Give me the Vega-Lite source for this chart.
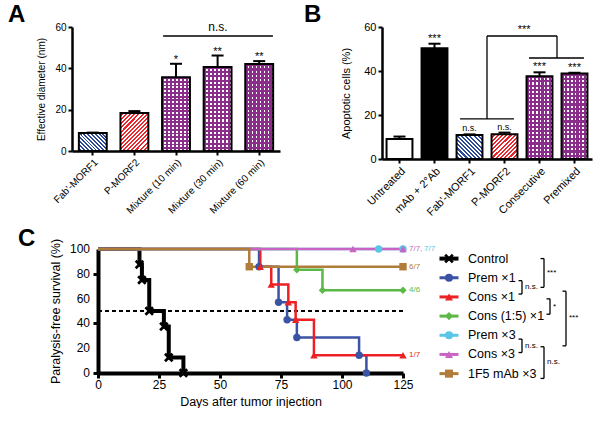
{
"$schema": "https://vega.github.io/schema/vega-lite/v6.json",
"padding": {"left": 8, "top": 3, "right": 0, "bottom": 0},
"background": "white",
"datasets": {
"sizeA": [
{"group": "Fab'-MORF1", "mean": 8.7, "upper": 8.9, "sig": "", "pattern": "blue"},
{"group": "P-MORF2", "mean": 18.4, "upper": 19.3, "sig": "", "pattern": "red"},
{"group": "Mixture (10 min)", "mean": 35.7, "upper": 42.2, "sig": "*", "pattern": "purple"},
{"group": "Mixture (30 min)", "mean": 40.7, "upper": 46.2, "sig": "**", "pattern": "purple"},
{"group": "Mixture (60 min)", "mean": 42.1, "upper": 43.5, "sig": "**", "pattern": "purple"}
],
"apopB": [
{"group": "Untreated", "mean": 9.1, "upper": 10.2, "sig": "", "pattern": "white"},
{"group": "mAb + 2°Ab", "mean": 50.3, "upper": 52.4, "sig": "***", "pattern": "black"},
{"group": "Fab'-MORF1", "mean": 10.9, "upper": 11.2, "sig": "n.s.", "pattern": "blue"},
{"group": "P-MORF2", "mean": 11.2, "upper": 12.0, "sig": "n.s.", "pattern": "red"},
{"group": "Consecutive", "mean": 37.6, "upper": 39.4, "sig": "***", "pattern": "purple"},
{"group": "Premixed", "mean": 38.9, "upper": 39.2, "sig": "***", "pattern": "purple"}
],
"segA": [{"x": 2.19, "x2": 4.83, "y": 55.6, "y2": 55.6}],
"labA": [{"x": 3.51, "y": 55.6, "label": "n.s."}],
"segB": [
{"x": 2.23, "x2": 3.77, "y": 18.2, "y2": 18.2},
{"x": 3.0, "x2": 3.0, "y": 18.2, "y2": 55.9},
{"x": 3.0, "x2": 5.0, "y": 55.9, "y2": 55.9},
{"x": 5.0, "x2": 5.0, "y": 55.9, "y2": 45.9},
{"x": 4.2, "x2": 5.77, "y": 45.9, "y2": 45.9}
],
"labB": [{"x": 4.06, "y": 55.9, "label": "***"}],
"survTicks": [{"tick": 0}, {"tick": 20}, {"tick": 40}, {"tick": 60}, {"tick": 80}, {"tick": 100}],
"survival": [
{"series": "Control", "day": 0, "surv": 100, "event": "start"},
{"series": "Control", "day": 17, "surv": 87.5, "event": "death"},
{"series": "Control", "day": 18, "surv": 75, "event": "death"},
{"series": "Control", "day": 21, "surv": 50, "event": "death"},
{"series": "Control", "day": 27, "surv": 37.5, "event": "death"},
{"series": "Control", "day": 29, "surv": 12.5, "event": "death"},
{"series": "Control", "day": 35, "surv": 0, "event": "death"},
{"series": "Prem ×1", "day": 0, "surv": 100, "event": "start"},
{"series": "Prem ×1", "day": 66, "surv": 85.7, "event": "death"},
{"series": "Prem ×1", "day": 74, "surv": 57.1, "event": "death"},
{"series": "Prem ×1", "day": 77.5, "surv": 42.9, "event": "death"},
{"series": "Prem ×1", "day": 81.5, "surv": 28.6, "event": "death"},
{"series": "Prem ×1", "day": 107, "surv": 14.3, "event": "death"},
{"series": "Prem ×1", "day": 110, "surv": 0, "event": "death"},
{"series": "Cons ×1", "day": 0, "surv": 100, "event": "start"},
{"series": "Cons ×1", "day": 66.5, "surv": 85.7, "event": "death"},
{"series": "Cons ×1", "day": 71, "surv": 71.4, "event": "death"},
{"series": "Cons ×1", "day": 78, "surv": 57.1, "event": "death"},
{"series": "Cons ×1", "day": 81, "surv": 42.9, "event": "death"},
{"series": "Cons ×1", "day": 88.5, "surv": 14.3, "event": "death"},
{"series": "Cons ×1", "day": 125, "surv": 14.3, "event": "censored"},
{"series": "Cons (1:5) ×1", "day": 0, "surv": 100, "event": "start"},
{"series": "Cons (1:5) ×1", "day": 81.5, "surv": 83.3, "event": "death"},
{"series": "Cons (1:5) ×1", "day": 92, "surv": 66.7, "event": "death"},
{"series": "Cons (1:5) ×1", "day": 125, "surv": 66.7, "event": "censored"},
{"series": "Prem ×3", "day": 0, "surv": 100, "event": "start"},
{"series": "Prem ×3", "day": 115, "surv": 100, "event": "censored"},
{"series": "Prem ×3", "day": 125, "surv": 100, "event": "censored"},
{"series": "Cons ×3", "day": 0, "surv": 100, "event": "start"},
{"series": "Cons ×3", "day": 104.5, "surv": 100, "event": "censored"},
{"series": "Cons ×3", "day": 125, "surv": 100, "event": "censored"},
{"series": "1F5 mAb ×3", "day": 0, "surv": 100, "event": "start"},
{"series": "1F5 mAb ×3", "day": 62, "surv": 85.7, "event": "death"},
{"series": "1F5 mAb ×3", "day": 125, "surv": 85.7, "event": "censored"}
],
"counts": [
{"series": "Cons ×3", "day": 125, "surv": 100, "label": "7/7,"},
{"series": "Prem ×3", "day": 125, "surv": 100, "label": "7/7"},
{"series": "1F5 mAb ×3", "day": 125, "surv": 85.7, "label": "6/7"},
{"series": "Cons (1:5) ×1", "day": 125, "surv": 66.7, "label": "4/6"},
{"series": "Cons ×1", "day": 125, "surv": 14.3, "label": "1/7"}
],
"legendRows": [
{"series": "Control", "row": 0},
{"series": "Prem ×1", "row": 1},
{"series": "Cons ×1", "row": 2},
{"series": "Cons (1:5) ×1", "row": 3},
{"series": "Prem ×3", "row": 4},
{"series": "Cons ×3", "row": 5},
{"series": "1F5 mAb ×3", "row": 6}
],
"legendBrackets": [
{"from": 1.15, "to": 1.85, "mid": 1.5, "level": 8.4, "label": "n.s."},
{"from": 0, "to": 1.5, "mid": 0.75, "level": 10.6, "label": "***"},
{"from": 2.1, "to": 2.9, "mid": 2.5, "level": 11.2, "label": "*"},
{"from": 1.7, "to": 4.55, "mid": 3.12, "level": 12.8, "label": "***"},
{"from": 4.2, "to": 4.9, "mid": 4.55, "level": 8.4, "label": "n.s."},
{"from": 4.6, "to": 6.25, "mid": 5.4, "level": 10.6, "label": "n.s."}
]
},
"concat": [
{"hconcat": [
{
"title": {"text": "A", "anchor": "start", "frame": "group", "dx": -90, "fontSize": 24, "fontWeight": "bold", "offset": -6},
"width": 182, "height": 124,
"layer": [
{"data": {"name": "sizeA"}, "transform": [{"filter": "datum.pattern === 'blue'"}],
 "mark": {"type": "bar", "stroke": "black", "strokeWidth": 2, "fill": {"gradient": "linear", "x1": 0, "y1": 1, "x2": 1.1625, "y2": 0.2527, "stops": [
{"offset":0,"color":"#fff"},{"offset":0.0417,"color":"#fff"},{"offset":0.0417,"color":"#2e4b9b"},{"offset":0.0833,"color":"#2e4b9b"},
{"offset":0.0833,"color":"#fff"},{"offset":0.125,"color":"#fff"},{"offset":0.125,"color":"#2e4b9b"},{"offset":0.1667,"color":"#2e4b9b"},
{"offset":0.1667,"color":"#fff"},{"offset":0.2083,"color":"#fff"},{"offset":0.2083,"color":"#2e4b9b"},{"offset":0.25,"color":"#2e4b9b"},
{"offset":0.25,"color":"#fff"},{"offset":0.2917,"color":"#fff"},{"offset":0.2917,"color":"#2e4b9b"},{"offset":0.3333,"color":"#2e4b9b"},
{"offset":0.3333,"color":"#fff"},{"offset":0.375,"color":"#fff"},{"offset":0.375,"color":"#2e4b9b"},{"offset":0.4167,"color":"#2e4b9b"},
{"offset":0.4167,"color":"#fff"},{"offset":0.4583,"color":"#fff"},{"offset":0.4583,"color":"#2e4b9b"},{"offset":0.5,"color":"#2e4b9b"},
{"offset":0.5,"color":"#fff"},{"offset":0.5417,"color":"#fff"},{"offset":0.5417,"color":"#2e4b9b"},{"offset":0.5833,"color":"#2e4b9b"},
{"offset":0.5833,"color":"#fff"},{"offset":0.625,"color":"#fff"},{"offset":0.625,"color":"#2e4b9b"},{"offset":0.6667,"color":"#2e4b9b"},
{"offset":0.6667,"color":"#fff"},{"offset":0.7083,"color":"#fff"},{"offset":0.7083,"color":"#2e4b9b"},{"offset":0.75,"color":"#2e4b9b"},
{"offset":0.75,"color":"#fff"},{"offset":0.7917,"color":"#fff"},{"offset":0.7917,"color":"#2e4b9b"},{"offset":0.8333,"color":"#2e4b9b"},
{"offset":0.8333,"color":"#fff"},{"offset":0.875,"color":"#fff"},{"offset":0.875,"color":"#2e4b9b"},{"offset":0.9167,"color":"#2e4b9b"},
{"offset":0.9167,"color":"#fff"},{"offset":0.9583,"color":"#fff"},{"offset":0.9583,"color":"#2e4b9b"},{"offset":1,"color":"#2e4b9b"}]}},
 "encoding": {
  "x": {"field": "group", "type": "nominal", "sort": null, "scale": {"domain": ["Fab'-MORF1", "P-MORF2", "Mixture (10 min)", "Mixture (30 min)", "Mixture (60 min)"], "range": [-26, 182], "paddingInner": 0.33, "paddingOuter": 0.165}, "axis": {"title": null, "labelAngle": -45, "labelFontSize": 10, "tickSize": 4, "tickWidth": 2, "domainWidth": 2.5, "labelPadding": 2}},
  "y": {"field": "mean", "type": "quantitative", "scale": {"domain": [0, 60], "nice": false}, "axis": {"title": "Effective diameter (nm)", "values": [0, 20, 40, 60], "offset": 26, "labelFontSize": 10, "titleFontSize": 10, "tickSize": 4, "tickWidth": 2, "domainWidth": 2.5, "titlePadding": 8, "labelPadding": 2, "labelOverlap": false}}
 }},
{"data": {"name": "sizeA"}, "transform": [{"filter": "datum.pattern === 'red'"}],
 "mark": {"type": "bar", "stroke": "black", "strokeWidth": 2, "fill": {"gradient": "linear", "x1": 0, "y1": 0, "x2": 0.8294, "y2": 1.1256, "stops": [
{"offset":0,"color":"#fff"},{"offset":0.03125,"color":"#fff"},{"offset":0.03125,"color":"#e8262b"},{"offset":0.0625,"color":"#e8262b"},
{"offset":0.0625,"color":"#fff"},{"offset":0.09375,"color":"#fff"},{"offset":0.09375,"color":"#e8262b"},{"offset":0.125,"color":"#e8262b"},
{"offset":0.125,"color":"#fff"},{"offset":0.15625,"color":"#fff"},{"offset":0.15625,"color":"#e8262b"},{"offset":0.1875,"color":"#e8262b"},
{"offset":0.1875,"color":"#fff"},{"offset":0.21875,"color":"#fff"},{"offset":0.21875,"color":"#e8262b"},{"offset":0.25,"color":"#e8262b"},
{"offset":0.25,"color":"#fff"},{"offset":0.28125,"color":"#fff"},{"offset":0.28125,"color":"#e8262b"},{"offset":0.3125,"color":"#e8262b"},
{"offset":0.3125,"color":"#fff"},{"offset":0.34375,"color":"#fff"},{"offset":0.34375,"color":"#e8262b"},{"offset":0.375,"color":"#e8262b"},
{"offset":0.375,"color":"#fff"},{"offset":0.40625,"color":"#fff"},{"offset":0.40625,"color":"#e8262b"},{"offset":0.4375,"color":"#e8262b"},
{"offset":0.4375,"color":"#fff"},{"offset":0.46875,"color":"#fff"},{"offset":0.46875,"color":"#e8262b"},{"offset":0.5,"color":"#e8262b"},
{"offset":0.5,"color":"#fff"},{"offset":0.53125,"color":"#fff"},{"offset":0.53125,"color":"#e8262b"},{"offset":0.5625,"color":"#e8262b"},
{"offset":0.5625,"color":"#fff"},{"offset":0.59375,"color":"#fff"},{"offset":0.59375,"color":"#e8262b"},{"offset":0.625,"color":"#e8262b"},
{"offset":0.625,"color":"#fff"},{"offset":0.65625,"color":"#fff"},{"offset":0.65625,"color":"#e8262b"},{"offset":0.6875,"color":"#e8262b"},
{"offset":0.6875,"color":"#fff"},{"offset":0.71875,"color":"#fff"},{"offset":0.71875,"color":"#e8262b"},{"offset":0.75,"color":"#e8262b"},
{"offset":0.75,"color":"#fff"},{"offset":0.78125,"color":"#fff"},{"offset":0.78125,"color":"#e8262b"},{"offset":0.8125,"color":"#e8262b"},
{"offset":0.8125,"color":"#fff"},{"offset":0.84375,"color":"#fff"},{"offset":0.84375,"color":"#e8262b"},{"offset":0.875,"color":"#e8262b"},
{"offset":0.875,"color":"#fff"},{"offset":0.90625,"color":"#fff"},{"offset":0.90625,"color":"#e8262b"},{"offset":0.9375,"color":"#e8262b"},
{"offset":0.9375,"color":"#fff"},{"offset":0.96875,"color":"#fff"},{"offset":0.96875,"color":"#e8262b"},{"offset":1,"color":"#e8262b"}]}},
 "encoding": {
  "x": {"field": "group", "type": "nominal", "sort": null, "scale": {"domain": ["Fab'-MORF1", "P-MORF2", "Mixture (10 min)", "Mixture (30 min)", "Mixture (60 min)"], "range": [-26, 182], "paddingInner": 0.33, "paddingOuter": 0.165}, "axis": null},
  "y": {"field": "mean", "type": "quantitative", "scale": {"domain": [0, 60], "nice": false}}
 }},
{"data": {"name": "sizeA"}, "transform": [{"filter": "datum.pattern === 'purple'"}],
 "mark": {"type": "bar", "strokeWidth": 0, "fill": {"gradient": "linear", "x1": 0, "y1": 0, "x2": 1, "y2": 0, "stops": [
{"offset":0,"color":"#8b2d8b"},{"offset":0.0857,"color":"#8b2d8b"},{"offset":0.0857,"color":"#fff"},{"offset":0.1429,"color":"#fff"},
{"offset":0.1429,"color":"#8b2d8b"},{"offset":0.2286,"color":"#8b2d8b"},{"offset":0.2286,"color":"#fff"},{"offset":0.2857,"color":"#fff"},
{"offset":0.2857,"color":"#8b2d8b"},{"offset":0.3714,"color":"#8b2d8b"},{"offset":0.3714,"color":"#fff"},{"offset":0.4286,"color":"#fff"},
{"offset":0.4286,"color":"#8b2d8b"},{"offset":0.5143,"color":"#8b2d8b"},{"offset":0.5143,"color":"#fff"},{"offset":0.5714,"color":"#fff"},
{"offset":0.5714,"color":"#8b2d8b"},{"offset":0.6571,"color":"#8b2d8b"},{"offset":0.6571,"color":"#fff"},{"offset":0.7143,"color":"#fff"},
{"offset":0.7143,"color":"#8b2d8b"},{"offset":0.8,"color":"#8b2d8b"},{"offset":0.8,"color":"#fff"},{"offset":0.8571,"color":"#fff"},
{"offset":0.8571,"color":"#8b2d8b"},{"offset":0.9429,"color":"#8b2d8b"},{"offset":0.9429,"color":"#fff"},{"offset":1,"color":"#fff"}]}},
 "encoding": {
  "x": {"field": "group", "type": "nominal", "sort": null, "scale": {"domain": ["Fab'-MORF1", "P-MORF2", "Mixture (10 min)", "Mixture (30 min)", "Mixture (60 min)"], "range": [-26, 182], "paddingInner": 0.33, "paddingOuter": 0.165}, "axis": null},
  "y": {"field": "mean", "type": "quantitative", "scale": {"domain": [0, 60], "nice": false}}
 }},
{"data": {"name": "sizeA"}, "transform": [{"filter": "datum.pattern === 'purple'"}],
 "mark": {"type": "bar", "stroke": "black", "strokeWidth": 2, "fill": {"gradient": "linear", "x1": 0, "y1": 0, "x2": 0, "y2": 1, "stops": [
{"offset":0,"color":"#8b2d8b"},{"offset":0.025,"color":"#8b2d8b"},{"offset":0.025,"color":"rgba(139,45,139,0)"},{"offset":0.05,"color":"rgba(139,45,139,0)"},
{"offset":0.05,"color":"#8b2d8b"},{"offset":0.075,"color":"#8b2d8b"},{"offset":0.075,"color":"rgba(139,45,139,0)"},{"offset":0.1,"color":"rgba(139,45,139,0)"},
{"offset":0.1,"color":"#8b2d8b"},{"offset":0.125,"color":"#8b2d8b"},{"offset":0.125,"color":"rgba(139,45,139,0)"},{"offset":0.15,"color":"rgba(139,45,139,0)"},
{"offset":0.15,"color":"#8b2d8b"},{"offset":0.175,"color":"#8b2d8b"},{"offset":0.175,"color":"rgba(139,45,139,0)"},{"offset":0.2,"color":"rgba(139,45,139,0)"},
{"offset":0.2,"color":"#8b2d8b"},{"offset":0.225,"color":"#8b2d8b"},{"offset":0.225,"color":"rgba(139,45,139,0)"},{"offset":0.25,"color":"rgba(139,45,139,0)"},
{"offset":0.25,"color":"#8b2d8b"},{"offset":0.275,"color":"#8b2d8b"},{"offset":0.275,"color":"rgba(139,45,139,0)"},{"offset":0.3,"color":"rgba(139,45,139,0)"},
{"offset":0.3,"color":"#8b2d8b"},{"offset":0.325,"color":"#8b2d8b"},{"offset":0.325,"color":"rgba(139,45,139,0)"},{"offset":0.35,"color":"rgba(139,45,139,0)"},
{"offset":0.35,"color":"#8b2d8b"},{"offset":0.375,"color":"#8b2d8b"},{"offset":0.375,"color":"rgba(139,45,139,0)"},{"offset":0.4,"color":"rgba(139,45,139,0)"},
{"offset":0.4,"color":"#8b2d8b"},{"offset":0.425,"color":"#8b2d8b"},{"offset":0.425,"color":"rgba(139,45,139,0)"},{"offset":0.45,"color":"rgba(139,45,139,0)"},
{"offset":0.45,"color":"#8b2d8b"},{"offset":0.475,"color":"#8b2d8b"},{"offset":0.475,"color":"rgba(139,45,139,0)"},{"offset":0.5,"color":"rgba(139,45,139,0)"},
{"offset":0.5,"color":"#8b2d8b"},{"offset":0.525,"color":"#8b2d8b"},{"offset":0.525,"color":"rgba(139,45,139,0)"},{"offset":0.55,"color":"rgba(139,45,139,0)"},
{"offset":0.55,"color":"#8b2d8b"},{"offset":0.575,"color":"#8b2d8b"},{"offset":0.575,"color":"rgba(139,45,139,0)"},{"offset":0.6,"color":"rgba(139,45,139,0)"},
{"offset":0.6,"color":"#8b2d8b"},{"offset":0.625,"color":"#8b2d8b"},{"offset":0.625,"color":"rgba(139,45,139,0)"},{"offset":0.65,"color":"rgba(139,45,139,0)"},
{"offset":0.65,"color":"#8b2d8b"},{"offset":0.675,"color":"#8b2d8b"},{"offset":0.675,"color":"rgba(139,45,139,0)"},{"offset":0.7,"color":"rgba(139,45,139,0)"},
{"offset":0.7,"color":"#8b2d8b"},{"offset":0.725,"color":"#8b2d8b"},{"offset":0.725,"color":"rgba(139,45,139,0)"},{"offset":0.75,"color":"rgba(139,45,139,0)"},
{"offset":0.75,"color":"#8b2d8b"},{"offset":0.775,"color":"#8b2d8b"},{"offset":0.775,"color":"rgba(139,45,139,0)"},{"offset":0.8,"color":"rgba(139,45,139,0)"},
{"offset":0.8,"color":"#8b2d8b"},{"offset":0.825,"color":"#8b2d8b"},{"offset":0.825,"color":"rgba(139,45,139,0)"},{"offset":0.85,"color":"rgba(139,45,139,0)"},
{"offset":0.85,"color":"#8b2d8b"},{"offset":0.875,"color":"#8b2d8b"},{"offset":0.875,"color":"rgba(139,45,139,0)"},{"offset":0.9,"color":"rgba(139,45,139,0)"},
{"offset":0.9,"color":"#8b2d8b"},{"offset":0.925,"color":"#8b2d8b"},{"offset":0.925,"color":"rgba(139,45,139,0)"},{"offset":0.95,"color":"rgba(139,45,139,0)"},
{"offset":0.95,"color":"#8b2d8b"},{"offset":0.975,"color":"#8b2d8b"},{"offset":0.975,"color":"rgba(139,45,139,0)"},{"offset":1,"color":"rgba(139,45,139,0)"}]}},
 "encoding": {
  "x": {"field": "group", "type": "nominal", "sort": null, "scale": {"domain": ["Fab'-MORF1", "P-MORF2", "Mixture (10 min)", "Mixture (30 min)", "Mixture (60 min)"], "range": [-26, 182], "paddingInner": 0.33, "paddingOuter": 0.165}, "axis": null},
  "y": {"field": "mean", "type": "quantitative", "scale": {"domain": [0, 60], "nice": false}}
 }},
{"data": {"name": "sizeA"},
 "mark": {"type": "rule", "color": "black", "strokeWidth": 2},
 "encoding": {
  "x": {"field": "group", "type": "nominal", "sort": null, "scale": {"domain": ["Fab'-MORF1", "P-MORF2", "Mixture (10 min)", "Mixture (30 min)", "Mixture (60 min)"], "range": [-26, 182], "paddingInner": 0.33, "paddingOuter": 0.165}, "axis": null},
  "y": {"field": "mean", "type": "quantitative", "scale": {"domain": [0, 60], "nice": false}},
  "y2": {"field": "upper"}
 }},
{"data": {"name": "sizeA"},
 "mark": {"type": "tick", "color": "black", "thickness": 2, "size": 12, "opacity": 1},
 "encoding": {
  "x": {"field": "group", "type": "nominal", "sort": null, "scale": {"domain": ["Fab'-MORF1", "P-MORF2", "Mixture (10 min)", "Mixture (30 min)", "Mixture (60 min)"], "range": [-26, 182], "paddingInner": 0.33, "paddingOuter": 0.165}, "axis": null},
  "y": {"field": "upper", "type": "quantitative", "scale": {"domain": [0, 60], "nice": false}}
 }},
{"data": {"name": "sizeA"},
 "mark": {"type": "text", "fontSize": 11, "dy": -1, "baseline": "alphabetic", "color": "black"},
 "encoding": {
  "x": {"field": "group", "type": "nominal", "sort": null, "scale": {"domain": ["Fab'-MORF1", "P-MORF2", "Mixture (10 min)", "Mixture (30 min)", "Mixture (60 min)"], "range": [-26, 182], "paddingInner": 0.33, "paddingOuter": 0.165}, "axis": null},
  "y": {"field": "upper", "type": "quantitative", "scale": {"domain": [0, 60], "nice": false}},
  "text": {"field": "sig"}
 }},
{"data": {"name": "segA"},
 "mark": {"type": "rule", "color": "black", "strokeWidth": 1.5},
 "encoding": {
  "x": {"field": "x", "type": "quantitative", "scale": {"domain": [0, 5], "range": [-26, 182], "nice": false, "zero": false}, "axis": null},
  "x2": {"field": "x2"},
  "y": {"field": "y", "type": "quantitative", "scale": {"domain": [0, 60], "nice": false}},
  "y2": {"field": "y2"}
 }},
{"data": {"name": "labA"},
 "mark": {"type": "text", "fontSize": 12, "dy": -5, "baseline": "alphabetic", "color": "black"},
 "encoding": {
  "x": {"field": "x", "type": "quantitative", "scale": {"domain": [0, 5], "range": [-26, 182], "nice": false, "zero": false}, "axis": null},
  "y": {"field": "y", "type": "quantitative", "scale": {"domain": [0, 60], "nice": false}},
  "text": {"field": "label"}
 }}
],
"resolve": {"scale": {"x": "independent"}}
},
{
"title": {"text": "B", "anchor": "start", "frame": "group", "dx": -78, "fontSize": 24, "fontWeight": "bold", "offset": -6},
"width": 210, "height": 132,
"layer": [
{"data": {"name": "apopB"}, "transform": [{"filter": "datum.pattern === 'white'"}],
 "mark": {"type": "bar", "stroke": "black", "strokeWidth": 2, "fill": "white"},
 "encoding": {
  "x": {"field": "group", "type": "nominal", "sort": null, "scale": {"domain": ["Untreated", "mAb + 2°Ab", "Fab'-MORF1", "P-MORF2", "Consecutive", "Premixed"], "paddingInner": 0.26, "paddingOuter": 0.13}, "axis": {"title": null, "labelAngle": -45, "labelFontSize": 11, "tickSize": 4, "tickWidth": 2, "domainWidth": 2.5, "labelPadding": 2}},
  "y": {"field": "mean", "type": "quantitative", "scale": {"domain": [0, 60], "nice": false}, "axis": {"title": "Apoptotic cells (%)", "values": [0, 20, 40, 60], "labelFontSize": 11, "titleFontSize": 11, "tickSize": 4, "tickWidth": 2, "domainWidth": 2.5, "titlePadding": 12, "labelPadding": 2, "labelOverlap": false}}
 }},
{"data": {"name": "apopB"}, "transform": [{"filter": "datum.pattern === 'black'"}],
 "mark": {"type": "bar", "stroke": "black", "strokeWidth": 2, "fill": "black"},
 "encoding": {
  "x": {"field": "group", "type": "nominal", "sort": null, "scale": {"domain": ["Untreated", "mAb + 2°Ab", "Fab'-MORF1", "P-MORF2", "Consecutive", "Premixed"], "paddingInner": 0.26, "paddingOuter": 0.13}, "axis": null},
  "y": {"field": "mean", "type": "quantitative", "scale": {"domain": [0, 60], "nice": false}}
 }},
{"data": {"name": "apopB"}, "transform": [{"filter": "datum.pattern === 'blue'"}],
 "mark": {"type": "bar", "stroke": "black", "strokeWidth": 2, "fill": {"gradient": "linear", "x1": 0, "y1": 1, "x2": 1.0383, "y2": 0.0416, "stops": [
{"offset":0,"color":"#fff"},{"offset":0.0417,"color":"#fff"},{"offset":0.0417,"color":"#2e4b9b"},{"offset":0.0833,"color":"#2e4b9b"},
{"offset":0.0833,"color":"#fff"},{"offset":0.125,"color":"#fff"},{"offset":0.125,"color":"#2e4b9b"},{"offset":0.1667,"color":"#2e4b9b"},
{"offset":0.1667,"color":"#fff"},{"offset":0.2083,"color":"#fff"},{"offset":0.2083,"color":"#2e4b9b"},{"offset":0.25,"color":"#2e4b9b"},
{"offset":0.25,"color":"#fff"},{"offset":0.2917,"color":"#fff"},{"offset":0.2917,"color":"#2e4b9b"},{"offset":0.3333,"color":"#2e4b9b"},
{"offset":0.3333,"color":"#fff"},{"offset":0.375,"color":"#fff"},{"offset":0.375,"color":"#2e4b9b"},{"offset":0.4167,"color":"#2e4b9b"},
{"offset":0.4167,"color":"#fff"},{"offset":0.4583,"color":"#fff"},{"offset":0.4583,"color":"#2e4b9b"},{"offset":0.5,"color":"#2e4b9b"},
{"offset":0.5,"color":"#fff"},{"offset":0.5417,"color":"#fff"},{"offset":0.5417,"color":"#2e4b9b"},{"offset":0.5833,"color":"#2e4b9b"},
{"offset":0.5833,"color":"#fff"},{"offset":0.625,"color":"#fff"},{"offset":0.625,"color":"#2e4b9b"},{"offset":0.6667,"color":"#2e4b9b"},
{"offset":0.6667,"color":"#fff"},{"offset":0.7083,"color":"#fff"},{"offset":0.7083,"color":"#2e4b9b"},{"offset":0.75,"color":"#2e4b9b"},
{"offset":0.75,"color":"#fff"},{"offset":0.7917,"color":"#fff"},{"offset":0.7917,"color":"#2e4b9b"},{"offset":0.8333,"color":"#2e4b9b"},
{"offset":0.8333,"color":"#fff"},{"offset":0.875,"color":"#fff"},{"offset":0.875,"color":"#2e4b9b"},{"offset":0.9167,"color":"#2e4b9b"},
{"offset":0.9167,"color":"#fff"},{"offset":0.9583,"color":"#fff"},{"offset":0.9583,"color":"#2e4b9b"},{"offset":1,"color":"#2e4b9b"}]}},
 "encoding": {
  "x": {"field": "group", "type": "nominal", "sort": null, "scale": {"domain": ["Untreated", "mAb + 2°Ab", "Fab'-MORF1", "P-MORF2", "Consecutive", "Premixed"], "paddingInner": 0.26, "paddingOuter": 0.13}, "axis": null},
  "y": {"field": "mean", "type": "quantitative", "scale": {"domain": [0, 60], "nice": false}}
 }},
{"data": {"name": "apopB"}, "transform": [{"filter": "datum.pattern === 'red'"}],
 "mark": {"type": "bar", "stroke": "black", "strokeWidth": 2, "fill": {"gradient": "linear", "x1": 0, "y1": 0, "x2": 1.0192, "y2": 0.98, "stops": [
{"offset":0,"color":"#fff"},{"offset":0.0417,"color":"#fff"},{"offset":0.0417,"color":"#e8262b"},{"offset":0.0833,"color":"#e8262b"},
{"offset":0.0833,"color":"#fff"},{"offset":0.125,"color":"#fff"},{"offset":0.125,"color":"#e8262b"},{"offset":0.1667,"color":"#e8262b"},
{"offset":0.1667,"color":"#fff"},{"offset":0.2083,"color":"#fff"},{"offset":0.2083,"color":"#e8262b"},{"offset":0.25,"color":"#e8262b"},
{"offset":0.25,"color":"#fff"},{"offset":0.2917,"color":"#fff"},{"offset":0.2917,"color":"#e8262b"},{"offset":0.3333,"color":"#e8262b"},
{"offset":0.3333,"color":"#fff"},{"offset":0.375,"color":"#fff"},{"offset":0.375,"color":"#e8262b"},{"offset":0.4167,"color":"#e8262b"},
{"offset":0.4167,"color":"#fff"},{"offset":0.4583,"color":"#fff"},{"offset":0.4583,"color":"#e8262b"},{"offset":0.5,"color":"#e8262b"},
{"offset":0.5,"color":"#fff"},{"offset":0.5417,"color":"#fff"},{"offset":0.5417,"color":"#e8262b"},{"offset":0.5833,"color":"#e8262b"},
{"offset":0.5833,"color":"#fff"},{"offset":0.625,"color":"#fff"},{"offset":0.625,"color":"#e8262b"},{"offset":0.6667,"color":"#e8262b"},
{"offset":0.6667,"color":"#fff"},{"offset":0.7083,"color":"#fff"},{"offset":0.7083,"color":"#e8262b"},{"offset":0.75,"color":"#e8262b"},
{"offset":0.75,"color":"#fff"},{"offset":0.7917,"color":"#fff"},{"offset":0.7917,"color":"#e8262b"},{"offset":0.8333,"color":"#e8262b"},
{"offset":0.8333,"color":"#fff"},{"offset":0.875,"color":"#fff"},{"offset":0.875,"color":"#e8262b"},{"offset":0.9167,"color":"#e8262b"},
{"offset":0.9167,"color":"#fff"},{"offset":0.9583,"color":"#fff"},{"offset":0.9583,"color":"#e8262b"},{"offset":1,"color":"#e8262b"}]}},
 "encoding": {
  "x": {"field": "group", "type": "nominal", "sort": null, "scale": {"domain": ["Untreated", "mAb + 2°Ab", "Fab'-MORF1", "P-MORF2", "Consecutive", "Premixed"], "paddingInner": 0.26, "paddingOuter": 0.13}, "axis": null},
  "y": {"field": "mean", "type": "quantitative", "scale": {"domain": [0, 60], "nice": false}}
 }},
{"data": {"name": "apopB"}, "transform": [{"filter": "datum.pattern === 'purple'"}],
 "mark": {"type": "bar", "strokeWidth": 0, "fill": {"gradient": "linear", "x1": 0, "y1": 0, "x2": 1, "y2": 0, "stops": [
{"offset":0,"color":"#8b2d8b"},{"offset":0.0857,"color":"#8b2d8b"},{"offset":0.0857,"color":"#fff"},{"offset":0.1429,"color":"#fff"},
{"offset":0.1429,"color":"#8b2d8b"},{"offset":0.2286,"color":"#8b2d8b"},{"offset":0.2286,"color":"#fff"},{"offset":0.2857,"color":"#fff"},
{"offset":0.2857,"color":"#8b2d8b"},{"offset":0.3714,"color":"#8b2d8b"},{"offset":0.3714,"color":"#fff"},{"offset":0.4286,"color":"#fff"},
{"offset":0.4286,"color":"#8b2d8b"},{"offset":0.5143,"color":"#8b2d8b"},{"offset":0.5143,"color":"#fff"},{"offset":0.5714,"color":"#fff"},
{"offset":0.5714,"color":"#8b2d8b"},{"offset":0.6571,"color":"#8b2d8b"},{"offset":0.6571,"color":"#fff"},{"offset":0.7143,"color":"#fff"},
{"offset":0.7143,"color":"#8b2d8b"},{"offset":0.8,"color":"#8b2d8b"},{"offset":0.8,"color":"#fff"},{"offset":0.8571,"color":"#fff"},
{"offset":0.8571,"color":"#8b2d8b"},{"offset":0.9429,"color":"#8b2d8b"},{"offset":0.9429,"color":"#fff"},{"offset":1,"color":"#fff"}]}},
 "encoding": {
  "x": {"field": "group", "type": "nominal", "sort": null, "scale": {"domain": ["Untreated", "mAb + 2°Ab", "Fab'-MORF1", "P-MORF2", "Consecutive", "Premixed"], "paddingInner": 0.26, "paddingOuter": 0.13}, "axis": null},
  "y": {"field": "mean", "type": "quantitative", "scale": {"domain": [0, 60], "nice": false}}
 }},
{"data": {"name": "apopB"}, "transform": [{"filter": "datum.pattern === 'purple'"}],
 "mark": {"type": "bar", "stroke": "black", "strokeWidth": 2, "fill": {"gradient": "linear", "x1": 0, "y1": 0, "x2": 0, "y2": 1, "stops": [
{"offset":0,"color":"#8b2d8b"},{"offset":0.025,"color":"#8b2d8b"},{"offset":0.025,"color":"rgba(139,45,139,0)"},{"offset":0.05,"color":"rgba(139,45,139,0)"},
{"offset":0.05,"color":"#8b2d8b"},{"offset":0.075,"color":"#8b2d8b"},{"offset":0.075,"color":"rgba(139,45,139,0)"},{"offset":0.1,"color":"rgba(139,45,139,0)"},
{"offset":0.1,"color":"#8b2d8b"},{"offset":0.125,"color":"#8b2d8b"},{"offset":0.125,"color":"rgba(139,45,139,0)"},{"offset":0.15,"color":"rgba(139,45,139,0)"},
{"offset":0.15,"color":"#8b2d8b"},{"offset":0.175,"color":"#8b2d8b"},{"offset":0.175,"color":"rgba(139,45,139,0)"},{"offset":0.2,"color":"rgba(139,45,139,0)"},
{"offset":0.2,"color":"#8b2d8b"},{"offset":0.225,"color":"#8b2d8b"},{"offset":0.225,"color":"rgba(139,45,139,0)"},{"offset":0.25,"color":"rgba(139,45,139,0)"},
{"offset":0.25,"color":"#8b2d8b"},{"offset":0.275,"color":"#8b2d8b"},{"offset":0.275,"color":"rgba(139,45,139,0)"},{"offset":0.3,"color":"rgba(139,45,139,0)"},
{"offset":0.3,"color":"#8b2d8b"},{"offset":0.325,"color":"#8b2d8b"},{"offset":0.325,"color":"rgba(139,45,139,0)"},{"offset":0.35,"color":"rgba(139,45,139,0)"},
{"offset":0.35,"color":"#8b2d8b"},{"offset":0.375,"color":"#8b2d8b"},{"offset":0.375,"color":"rgba(139,45,139,0)"},{"offset":0.4,"color":"rgba(139,45,139,0)"},
{"offset":0.4,"color":"#8b2d8b"},{"offset":0.425,"color":"#8b2d8b"},{"offset":0.425,"color":"rgba(139,45,139,0)"},{"offset":0.45,"color":"rgba(139,45,139,0)"},
{"offset":0.45,"color":"#8b2d8b"},{"offset":0.475,"color":"#8b2d8b"},{"offset":0.475,"color":"rgba(139,45,139,0)"},{"offset":0.5,"color":"rgba(139,45,139,0)"},
{"offset":0.5,"color":"#8b2d8b"},{"offset":0.525,"color":"#8b2d8b"},{"offset":0.525,"color":"rgba(139,45,139,0)"},{"offset":0.55,"color":"rgba(139,45,139,0)"},
{"offset":0.55,"color":"#8b2d8b"},{"offset":0.575,"color":"#8b2d8b"},{"offset":0.575,"color":"rgba(139,45,139,0)"},{"offset":0.6,"color":"rgba(139,45,139,0)"},
{"offset":0.6,"color":"#8b2d8b"},{"offset":0.625,"color":"#8b2d8b"},{"offset":0.625,"color":"rgba(139,45,139,0)"},{"offset":0.65,"color":"rgba(139,45,139,0)"},
{"offset":0.65,"color":"#8b2d8b"},{"offset":0.675,"color":"#8b2d8b"},{"offset":0.675,"color":"rgba(139,45,139,0)"},{"offset":0.7,"color":"rgba(139,45,139,0)"},
{"offset":0.7,"color":"#8b2d8b"},{"offset":0.725,"color":"#8b2d8b"},{"offset":0.725,"color":"rgba(139,45,139,0)"},{"offset":0.75,"color":"rgba(139,45,139,0)"},
{"offset":0.75,"color":"#8b2d8b"},{"offset":0.775,"color":"#8b2d8b"},{"offset":0.775,"color":"rgba(139,45,139,0)"},{"offset":0.8,"color":"rgba(139,45,139,0)"},
{"offset":0.8,"color":"#8b2d8b"},{"offset":0.825,"color":"#8b2d8b"},{"offset":0.825,"color":"rgba(139,45,139,0)"},{"offset":0.85,"color":"rgba(139,45,139,0)"},
{"offset":0.85,"color":"#8b2d8b"},{"offset":0.875,"color":"#8b2d8b"},{"offset":0.875,"color":"rgba(139,45,139,0)"},{"offset":0.9,"color":"rgba(139,45,139,0)"},
{"offset":0.9,"color":"#8b2d8b"},{"offset":0.925,"color":"#8b2d8b"},{"offset":0.925,"color":"rgba(139,45,139,0)"},{"offset":0.95,"color":"rgba(139,45,139,0)"},
{"offset":0.95,"color":"#8b2d8b"},{"offset":0.975,"color":"#8b2d8b"},{"offset":0.975,"color":"rgba(139,45,139,0)"},{"offset":1,"color":"rgba(139,45,139,0)"}]}},
 "encoding": {
  "x": {"field": "group", "type": "nominal", "sort": null, "scale": {"domain": ["Untreated", "mAb + 2°Ab", "Fab'-MORF1", "P-MORF2", "Consecutive", "Premixed"], "paddingInner": 0.26, "paddingOuter": 0.13}, "axis": null},
  "y": {"field": "mean", "type": "quantitative", "scale": {"domain": [0, 60], "nice": false}}
 }},
{"data": {"name": "apopB"},
 "mark": {"type": "rule", "color": "black", "strokeWidth": 2},
 "encoding": {
  "x": {"field": "group", "type": "nominal", "sort": null, "scale": {"domain": ["Untreated", "mAb + 2°Ab", "Fab'-MORF1", "P-MORF2", "Consecutive", "Premixed"], "paddingInner": 0.26, "paddingOuter": 0.13}, "axis": null},
  "y": {"field": "mean", "type": "quantitative", "scale": {"domain": [0, 60], "nice": false}},
  "y2": {"field": "upper"}
 }},
{"data": {"name": "apopB"},
 "mark": {"type": "tick", "color": "black", "thickness": 2, "size": 12, "opacity": 1},
 "encoding": {
  "x": {"field": "group", "type": "nominal", "sort": null, "scale": {"domain": ["Untreated", "mAb + 2°Ab", "Fab'-MORF1", "P-MORF2", "Consecutive", "Premixed"], "paddingInner": 0.26, "paddingOuter": 0.13}, "axis": null},
  "y": {"field": "upper", "type": "quantitative", "scale": {"domain": [0, 60], "nice": false}}
 }},
{"data": {"name": "apopB"}, "transform": [{"filter": "datum.sig === '***'"}],
 "mark": {"type": "text", "fontSize": 11, "dy": -2, "baseline": "alphabetic", "color": "black"},
 "encoding": {
  "x": {"field": "group", "type": "nominal", "sort": null, "scale": {"domain": ["Untreated", "mAb + 2°Ab", "Fab'-MORF1", "P-MORF2", "Consecutive", "Premixed"], "paddingInner": 0.26, "paddingOuter": 0.13}, "axis": null},
  "y": {"field": "upper", "type": "quantitative", "scale": {"domain": [0, 60], "nice": false}},
  "text": {"field": "sig"}
 }},
{"data": {"name": "apopB"}, "transform": [{"filter": "datum.sig === 'n.s.'"}],
 "mark": {"type": "text", "fontSize": 9, "dy": -3, "baseline": "alphabetic", "color": "black"},
 "encoding": {
  "x": {"field": "group", "type": "nominal", "sort": null, "scale": {"domain": ["Untreated", "mAb + 2°Ab", "Fab'-MORF1", "P-MORF2", "Consecutive", "Premixed"], "paddingInner": 0.26, "paddingOuter": 0.13}, "axis": null},
  "y": {"field": "upper", "type": "quantitative", "scale": {"domain": [0, 60], "nice": false}},
  "text": {"field": "sig"}
 }},
{"data": {"name": "segB"},
 "mark": {"type": "rule", "color": "black", "strokeWidth": 1.3},
 "encoding": {
  "x": {"field": "x", "type": "quantitative", "scale": {"domain": [0, 6], "nice": false, "zero": false}, "axis": null},
  "x2": {"field": "x2"},
  "y": {"field": "y", "type": "quantitative", "scale": {"domain": [0, 60], "nice": false}},
  "y2": {"field": "y2"}
 }},
{"data": {"name": "labB"},
 "mark": {"type": "text", "fontSize": 11, "dy": -3, "baseline": "alphabetic", "color": "black"},
 "encoding": {
  "x": {"field": "x", "type": "quantitative", "scale": {"domain": [0, 6], "nice": false, "zero": false}, "axis": null},
  "y": {"field": "y", "type": "quantitative", "scale": {"domain": [0, 60], "nice": false}},
  "text": {"field": "label"}
 }}
],
"resolve": {"scale": {"x": "independent"}}
}
], "spacing": -2},
{"hconcat": [
{
"title": {"text": "C", "anchor": "start", "frame": "group", "dx": -80, "fontSize": 24, "fontWeight": "bold", "offset": -13},
"width": 305, "height": 124,
"layer": [
{"data": {"name": "survival"}, "transform": [{"filter": "datum.series === 'Control'"}],
 "mark": {"type": "line", "interpolate": "step-after", "strokeWidth": 4, "clip": false},
 "encoding": {
  "x": {"field": "day", "type": "quantitative", "scale": {"domain": [0, 125], "nice": false, "zero": false}, "axis": {"title": "Days after tumor injection", "values": [0, 25, 50, 75, 100, 125], "labelFontSize": 12, "titleFontSize": 12.5, "tickSize": 5, "tickWidth": 3, "domainWidth": 4, "titlePadding": 5, "labelPadding": 1, "labelAngle": 0, "labelOverlap": false}},
  "y": {"field": "surv", "type": "quantitative", "scale": {"domain": [0, 100], "nice": false}, "axis": {"title": "Paralysis-free survival (%)", "values": [0, 20, 40, 60, 80, 100], "labels": false, "titleFontSize": 12.5, "tickSize": 5, "tickWidth": 3, "domainWidth": 4, "titlePadding": 29}},
  "color": {"field": "series", "type": "nominal", "scale": {"domain": ["Control", "Prem ×1", "Cons ×1", "Cons (1:5) ×1", "Prem ×3", "Cons ×3", "1F5 mAb ×3"], "range": ["#000000", "#3b53a4", "#ed2024", "#5cb947", "#5bc5e8", "#c964c4", "#b07c3a"]}, "legend": null}
 }},
{"data": {"name": "survTicks"},
 "mark": {"type": "text", "fontSize": 12, "align": "right", "baseline": "middle", "dx": -8, "color": "black"},
 "encoding": {
  "x": {"datum": 0, "type": "quantitative", "scale": {"domain": [0, 125], "nice": false, "zero": false}},
  "y": {"field": "tick", "type": "quantitative", "scale": {"domain": [0, 100], "nice": false}},
  "text": {"field": "tick"}
 }},
{"data": {"name": "survival"},
 "mark": {"type": "rule", "color": "black", "strokeWidth": 1.3, "strokeDash": [4, 3]},
 "encoding": {"y": {"datum": 50, "type": "quantitative", "scale": {"domain": [0, 100], "nice": false}}}},
{"data": {"name": "survival"}, "transform": [{"filter": "datum.series !== 'Control'"}],
 "mark": {"type": "line", "interpolate": "step-after", "strokeWidth": 2.5, "clip": false},
 "encoding": {
  "x": {"field": "day", "type": "quantitative", "scale": {"domain": [0, 125], "nice": false, "zero": false}},
  "y": {"field": "surv", "type": "quantitative", "scale": {"domain": [0, 100], "nice": false}},
  "color": {"field": "series", "type": "nominal", "scale": {"domain": ["Control", "Prem ×1", "Cons ×1", "Cons (1:5) ×1", "Prem ×3", "Cons ×3", "1F5 mAb ×3"], "range": ["#000000", "#3b53a4", "#ed2024", "#5cb947", "#5bc5e8", "#c964c4", "#b07c3a"]}, "legend": null}
 }},
{"data": {"name": "survival"}, "transform": [{"filter": "datum.event !== 'start'"}],
 "mark": {"type": "point", "filled": true, "opacity": 1, "clip": false},
 "encoding": {
  "x": {"field": "day", "type": "quantitative", "scale": {"domain": [0, 125], "nice": false, "zero": false}},
  "y": {"field": "surv", "type": "quantitative", "scale": {"domain": [0, 100], "nice": false}},
  "color": {"field": "series", "type": "nominal", "scale": {"domain": ["Control", "Prem ×1", "Cons ×1", "Cons (1:5) ×1", "Prem ×3", "Cons ×3", "1F5 mAb ×3"], "range": ["#000000", "#3b53a4", "#ed2024", "#5cb947", "#5bc5e8", "#c964c4", "#b07c3a"]}, "legend": null},
  "shape": {"field": "series", "type": "nominal", "scale": {"domain": ["Control", "Prem ×1", "Cons ×1", "Cons (1:5) ×1", "Prem ×3", "Cons ×3", "1F5 mAb ×3"], "range": ["M-1,-0.6L-0.6,-1L0,-0.4L0.6,-1L1,-0.6L0.4,0L1,0.6L0.6,1L0,0.4L-0.6,1L-1,0.6L-0.4,0Z", "circle", "triangle-up", "diamond", "circle", "triangle-up", "square"]}, "legend": null},
  "size": {"condition": {"test": "datum.series === 'Control'", "value": 90}, "value": 55}
 }},
{"data": {"name": "counts"}, "transform": [{"filter": "datum.series !== 'Prem ×3'"}],
 "mark": {"type": "text", "fontSize": 8, "dx": 6, "align": "left", "baseline": "middle"},
 "encoding": {
  "x": {"field": "day", "type": "quantitative", "scale": {"domain": [0, 125], "nice": false, "zero": false}},
  "y": {"field": "surv", "type": "quantitative", "scale": {"domain": [0, 100], "nice": false}},
  "text": {"field": "label"},
  "color": {"field": "series", "type": "nominal", "scale": {"domain": ["Control", "Prem ×1", "Cons ×1", "Cons (1:5) ×1", "Prem ×3", "Cons ×3", "1F5 mAb ×3"], "range": ["#000000", "#3b53a4", "#ed2024", "#5cb947", "#5bc5e8", "#c964c4", "#b07c3a"]}, "legend": null}
 }},
{"data": {"name": "counts"}, "transform": [{"filter": "datum.series === 'Prem ×3'"}],
 "mark": {"type": "text", "fontSize": 8, "dx": 21, "align": "left", "baseline": "middle"},
 "encoding": {
  "x": {"field": "day", "type": "quantitative", "scale": {"domain": [0, 125], "nice": false, "zero": false}},
  "y": {"field": "surv", "type": "quantitative", "scale": {"domain": [0, 100], "nice": false}},
  "text": {"field": "label"},
  "color": {"field": "series", "type": "nominal", "scale": {"domain": ["Control", "Prem ×1", "Cons ×1", "Cons (1:5) ×1", "Prem ×3", "Cons ×3", "1F5 mAb ×3"], "range": ["#000000", "#3b53a4", "#ed2024", "#5cb947", "#5bc5e8", "#c964c4", "#b07c3a"]}, "legend": null}
 }}
]
},
{
"width": 165, "height": 143.8,
"layer": [
{"data": {"name": "legendRows"},
 "mark": {"type": "point", "shape": "M-1,0H1", "filled": false, "size": 361, "opacity": 1},
 "encoding": {
  "x": {"datum": 1.1, "type": "quantitative", "scale": {"domain": [0, 16.5], "nice": false, "zero": false}, "axis": null},
  "y": {"field": "row", "type": "quantitative", "scale": {"domain": [-0.5, 7], "reverse": true, "nice": false, "zero": false}, "axis": null},
  "color": {"field": "series", "type": "nominal", "scale": {"domain": ["Control", "Prem ×1", "Cons ×1", "Cons (1:5) ×1", "Prem ×3", "Cons ×3", "1F5 mAb ×3"], "range": ["#000000", "#3b53a4", "#ed2024", "#5cb947", "#5bc5e8", "#c964c4", "#b07c3a"]}, "legend": null},
  "strokeWidth": {"condition": {"test": "datum.series === 'Control'", "value": 4}, "value": 3}
 }},
{"data": {"name": "legendRows"},
 "mark": {"type": "point", "filled": true, "opacity": 1},
 "encoding": {
  "x": {"datum": 1.1, "type": "quantitative", "scale": {"domain": [0, 16.5], "nice": false, "zero": false}, "axis": null},
  "y": {"field": "row", "type": "quantitative", "scale": {"domain": [-0.5, 7], "reverse": true, "nice": false, "zero": false}, "axis": null},
  "color": {"field": "series", "type": "nominal", "scale": {"domain": ["Control", "Prem ×1", "Cons ×1", "Cons (1:5) ×1", "Prem ×3", "Cons ×3", "1F5 mAb ×3"], "range": ["#000000", "#3b53a4", "#ed2024", "#5cb947", "#5bc5e8", "#c964c4", "#b07c3a"]}, "legend": null},
  "shape": {"field": "series", "type": "nominal", "scale": {"domain": ["Control", "Prem ×1", "Cons ×1", "Cons (1:5) ×1", "Prem ×3", "Cons ×3", "1F5 mAb ×3"], "range": ["M-1,-0.6L-0.6,-1L0,-0.4L0.6,-1L1,-0.6L0.4,0L1,0.6L0.6,1L0,0.4L-0.6,1L-1,0.6L-0.4,0Z", "circle", "triangle-up", "diamond", "circle", "triangle-up", "square"]}, "legend": null},
  "size": {"condition": {"test": "datum.series === 'Control'", "value": 90}, "value": 65}
 }},
{"data": {"name": "legendRows"},
 "mark": {"type": "text", "fontSize": 12.5, "align": "left", "baseline": "middle", "color": "black"},
 "encoding": {
  "x": {"datum": 3.0, "type": "quantitative", "scale": {"domain": [0, 16.5], "nice": false, "zero": false}, "axis": null},
  "y": {"field": "row", "type": "quantitative", "scale": {"domain": [-0.5, 7], "reverse": true, "nice": false, "zero": false}, "axis": null},
  "text": {"field": "series"}
 }},
{"data": {"name": "legendBrackets"},
 "mark": {"type": "rule", "color": "black", "strokeWidth": 1.3},
 "encoding": {
  "x": {"field": "level", "type": "quantitative", "scale": {"domain": [0, 16.5], "nice": false, "zero": false}, "axis": null},
  "y": {"field": "from", "type": "quantitative", "scale": {"domain": [-0.5, 7], "reverse": true, "nice": false, "zero": false}, "axis": null},
  "y2": {"field": "to"}
 }},
{"data": {"name": "legendBrackets"},
 "mark": {"type": "point", "shape": "M-1,0H0", "filled": false, "size": 49, "strokeWidth": 1.3, "color": "black", "opacity": 1},
 "encoding": {
  "x": {"field": "level", "type": "quantitative", "scale": {"domain": [0, 16.5], "nice": false, "zero": false}, "axis": null},
  "y": {"field": "from", "type": "quantitative", "scale": {"domain": [-0.5, 7], "reverse": true, "nice": false, "zero": false}, "axis": null}
 }},
{"data": {"name": "legendBrackets"},
 "mark": {"type": "point", "shape": "M-1,0H0", "filled": false, "size": 49, "strokeWidth": 1.3, "color": "black", "opacity": 1},
 "encoding": {
  "x": {"field": "level", "type": "quantitative", "scale": {"domain": [0, 16.5], "nice": false, "zero": false}, "axis": null},
  "y": {"field": "to", "type": "quantitative", "scale": {"domain": [-0.5, 7], "reverse": true, "nice": false, "zero": false}, "axis": null}
 }},
{"data": {"name": "legendBrackets"},
 "mark": {"type": "text", "fontSize": 8, "dx": 3, "align": "left", "baseline": "middle", "color": "black"},
 "encoding": {
  "x": {"field": "level", "type": "quantitative", "scale": {"domain": [0, 16.5], "nice": false, "zero": false}, "axis": null},
  "y": {"field": "mid", "type": "quantitative", "scale": {"domain": [-0.5, 7], "reverse": true, "nice": false, "zero": false}, "axis": null},
  "text": {"field": "label"}
 }}
]
}
], "spacing": -5}
],
"columns": 1,
"align": "none",
"spacing": 9,
"config": {
 "view": {"stroke": null},
 "font": "Liberation Sans",
 "axis": {"domainColor": "#000", "tickColor": "#000", "labelColor": "#000", "titleColor": "#000", "grid": false, "labelFont": "Liberation Sans", "titleFont": "Liberation Sans", "titleFontWeight": "normal", "labelOverlap": false, "labelFlush": false},
 "title": {"font": "Liberation Sans", "color": "#000"},
 "text": {"font": "Liberation Sans"}
}
}
